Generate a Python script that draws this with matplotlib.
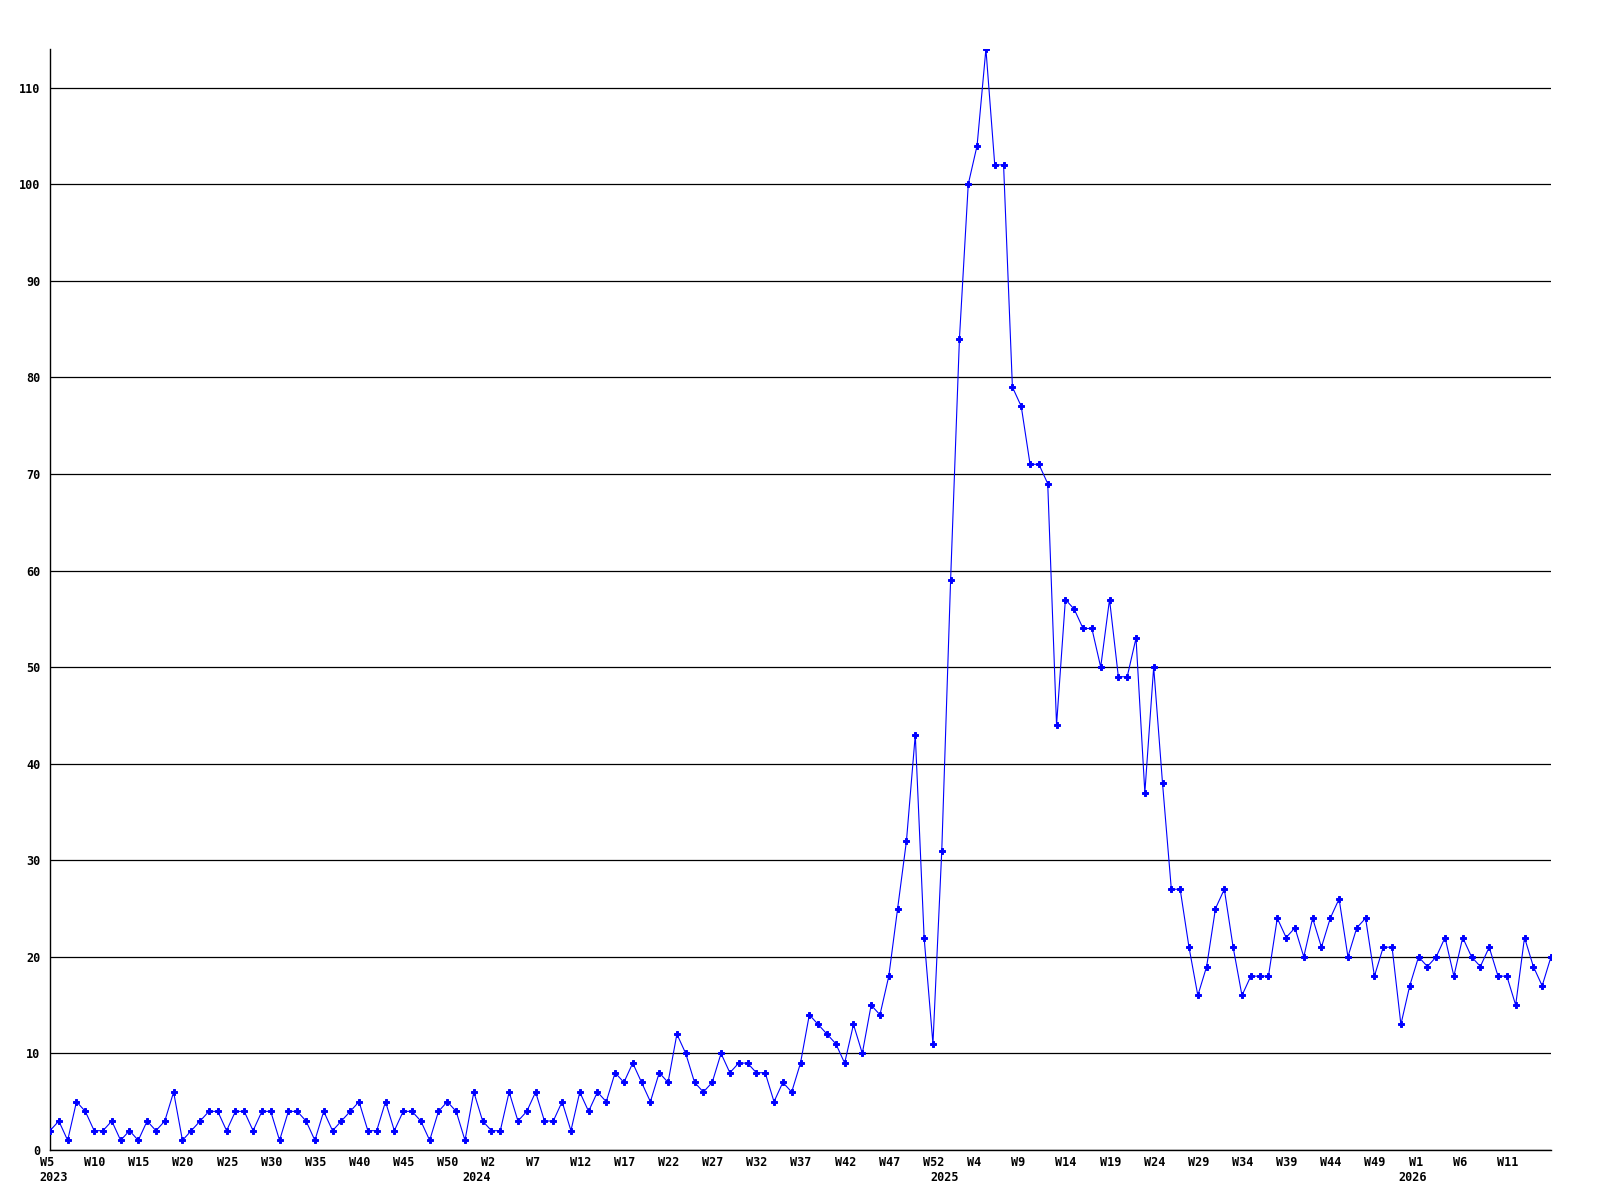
import matplotlib
matplotlib.use('Agg')
import matplotlib.pyplot as plt

# weekly counts, 2023 W5 .. 2026 W16 (one point per week)
counts = [
    2, 3, 1, 5, 4, 2, 2, 3, 1, 2,
    1, 3, 2, 3, 6, 1, 2, 3, 4, 4,
    2, 4, 4, 2, 4, 4, 1, 4, 4, 3,
    1, 4, 2, 3, 4, 5, 2, 2, 5, 2,
    4, 4, 3, 1, 4, 5, 4, 1, 6, 3,
    2, 2, 6, 3, 4, 6, 3, 3, 5, 2,
    6, 4, 6, 5, 8, 7, 9, 7, 5, 8,
    7, 12, 10, 7, 6, 7, 10, 8, 9, 9,
    8, 8, 5, 7, 6, 9, 14, 13, 12, 11,
    9, 13, 10, 15, 14, 18, 25, 32, 43, 22,
    11, 31, 59, 84, 100, 104, 114, 102, 102, 79,
    77, 71, 71, 69, 44, 57, 56, 54, 54, 50,
    57, 49, 49, 53, 37, 50, 38, 27, 27, 21,
    16, 19, 25, 27, 21, 16, 18, 18, 18, 24,
    22, 23, 20, 24, 21, 24, 26, 20, 23, 24,
    18, 21, 21, 13, 17, 20, 19, 20, 22, 18,
    22, 20, 19, 21, 18, 18, 15, 22, 19, 17,
    20,
]

# a week label on every 5th point
week_labels = [
    'W5', 'W10', 'W15', 'W20', 'W25', 'W30', 'W35', 'W40', 'W45', 'W50',
    'W2', 'W7', 'W12', 'W17', 'W22', 'W27', 'W32', 'W37', 'W42', 'W47', 'W52',
    'W4', 'W9', 'W14', 'W19', 'W24', 'W29', 'W34', 'W39', 'W44', 'W49',
    'W1', 'W6', 'W11',
]

years = ['2023', '2024', '2025', '2026']
year_first_point = [0, 49, 102, 155]

font = dict(family='DejaVu Sans Mono', fontweight='bold', fontsize=8.5)

fig = plt.figure(figsize=(16, 12), dpi=100)
ax = fig.add_axes([50 / 1600, 50 / 1200, 1501 / 1600, 1101 / 1200])

x = list(range(len(counts)))
ax.plot(x, counts, color='#0000ff', linewidth=0.8, marker='P',
        markersize=3.8, markeredgewidth=0.7, markeredgecolor='#0000ff',
        zorder=3)

ax.set_xlim(0, len(counts) - 1)
ax.set_ylim(0, max(counts))

for s in ['top', 'right']:
    ax.spines[s].set_visible(False)
for s in ['left', 'bottom']:
    ax.spines[s].set_color('black')
    ax.spines[s].set_linewidth(1.0)

ax.set_yticks(range(0, 111, 10))
ax.set_yticklabels([str(v) for v in range(0, 111, 10)], **font)
ax.tick_params(axis='y', length=0, pad=7)
ax.yaxis.grid(True, color='black', linewidth=0.9)
ax.set_axisbelow(True)

ax.set_xticks([])
for i, lab in enumerate(week_labels):
    ax.annotate(lab, xy=(i * 5, 0), xycoords=('data', 'axes fraction'),
                xytext=(-7.2, -4.2), textcoords='offset points',
                ha='left', va='top', **font)

for yr, pos in zip(years, year_first_point):
    if pos == 0:
        ax.annotate(yr, xy=(pos, 0), xycoords=('data', 'axes fraction'),
                    xytext=(-7.6, -15.0), textcoords='offset points',
                    ha='left', va='top', **font)
    else:
        ax.annotate(yr, xy=(pos, 0), xycoords=('data', 'axes fraction'),
                    xytext=(-4.3, -15.0), textcoords='offset points',
                    ha='center', va='top', **font)

plt.savefig('out.png', dpi=100)
